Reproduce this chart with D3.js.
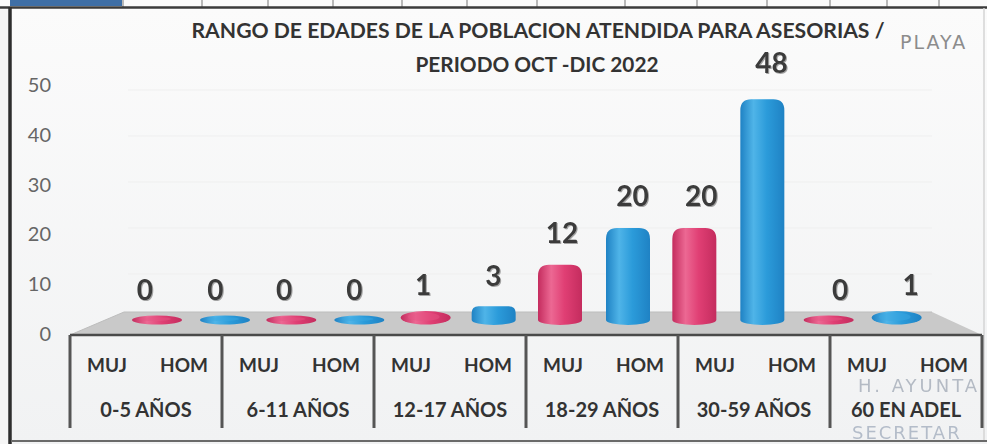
<!DOCTYPE html>
<html>
<head>
<meta charset="utf-8">
<script src="https://cdn.jsdelivr.net/npm/d3@7"></script>
<style>
  html, body { margin: 0; padding: 0; background: #f6f6f6; }
  svg { display: block; }
</style>
</head>
<body>
<svg id="chart" width="987" height="444"></svg>
<script>
// Age ranges and the two series shown for each range
const groups = ["0-5 AÑOS", "6-11 AÑOS", "12-17 AÑOS", "18-29 AÑOS", "30-59 AÑOS", "60 EN ADEL"];
const seriesNames = ["MUJ", "HOM"];
const mujeres = [0, 0, 1, 12, 20, 0];
const hombres = [0, 0, 3, 20, 48, 1];
const yTicks = [0, 10, 20, 30, 40, 50];
const titleLines = ["RANGO DE EDADES DE LA POBLACION ATENDIDA PARA ASESORIAS /", "PERIODO OCT -DIC 2022"];

const data = groups.map((g, i) => ({ group: g, values: [
  { series: "MUJ", value: mujeres[i] },
  { series: "HOM", value: hombres[i] }
]}));

const svg = d3.select("#chart");
const W = 987, H = 444;

const defs = svg.append("defs");
function cylGrad(id, dark, mid, light) {
  const g = defs.append("linearGradient").attr("id", id).attr("x1", 0).attr("x2", 1).attr("y1", 0).attr("y2", 0);
  g.append("stop").attr("offset", "0%").attr("stop-color", dark);
  g.append("stop").attr("offset", "30%").attr("stop-color", light);
  g.append("stop").attr("offset", "60%").attr("stop-color", mid);
  g.append("stop").attr("offset", "100%").attr("stop-color", dark);
}
cylGrad("gMUJ", "#c42c5e", "#e03f74", "#ec6893");
cylGrad("gHOM", "#1f82c4", "#2b9bda", "#4fb4e8");
const colors = { MUJ: "url(#gMUJ)", HOM: "url(#gHOM)" };
const topColors = { MUJ: "#e55384", HOM: "#3aa7e2" };

const bg = defs.append("linearGradient").attr("id", "bgGrad").attr("x1", 0).attr("x2", 0).attr("y1", 0).attr("y2", 1);
bg.append("stop").attr("offset", "0%").attr("stop-color", "#fbfbfb");
bg.append("stop").attr("offset", "100%").attr("stop-color", "#f1f2f3");

const shadow = defs.append("filter").attr("id", "lblShadow").attr("x", "-20%").attr("y", "-20%").attr("width", "140%").attr("height", "140%");
shadow.append("feDropShadow").attr("dx", 1).attr("dy", 1).attr("stdDeviation", 0.6).attr("flood-color", "#9a9a9a").attr("flood-opacity", 0.9);

// Chart area background
svg.append("rect").attr("x", 11).attr("y", 8).attr("width", W - 11).attr("height", H - 8).attr("fill", "url(#bgGrad)");

// Spreadsheet strip along the top edge
svg.append("rect").attr("x", 0).attr("y", 0).attr("width", W).attr("height", 7).attr("fill", "#fafafa");
svg.append("rect").attr("x", 10).attr("y", 0).attr("width", 112).attr("height", 6).attr("fill", "#3f6fa6");
const cellEdges = [123, 202, 268, 333, 402, 467, 537, 625, 697, 767, 830, 887, 939];
svg.selectAll("line.cell").data(cellEdges).join("line")
  .attr("x1", d => d).attr("x2", d => d).attr("y1", 0).attr("y2", 7)
  .attr("stroke", "#777").attr("stroke-width", 1);
svg.append("line").attr("x1", 0).attr("x2", W).attr("y1", 7.5).attr("y2", 7.5).attr("stroke", "#3a3a3a").attr("stroke-width", 2.5);

// Frame edges
svg.append("line").attr("x1", 10).attr("x2", 10).attr("y1", 7).attr("y2", H).attr("stroke", "#2e2e2e").attr("stroke-width", 3.5);
svg.append("line").attr("x1", 11).attr("x2", W).attr("y1", 441).attr("y2", 441).attr("stroke", "#6a6a6a").attr("stroke-width", 2);
svg.append("line").attr("x1", 984).attr("x2", 984).attr("y1", 8).attr("y2", 440).attr("stroke", "#d4d4d4").attr("stroke-width", 1.5);

// Scales
const yAxisScale = d3.scaleLinear().domain([0, 50]).range([334, 85]);
const yBar = d3.scaleLinear().domain([0, 50]).range([320, 90]);
const xBars = d3.scaleBand().domain(groups).range([124, 930]);
const xBarSub = d3.scalePoint().domain(seriesNames).range([33, 101]);
const xTable = d3.scaleBand().domain(groups).range([70, 982]);
const xTableSub = d3.scalePoint().domain(seriesNames).range([37, 114]);

// Very faint gridlines on the back wall
svg.append("g").selectAll("line").data(yTicks.slice(1)).join("line")
  .attr("x1", 128).attr("x2", 932)
  .attr("y1", d => yBar(d)).attr("y2", d => yBar(d))
  .attr("stroke", "#efefef").attr("stroke-width", 1);

// Floor of the 3D plot
const floorBack = yBar(0) - 8, floorFront = 335;
svg.append("path")
  .attr("d", `M70,${floorFront} L124,${floorBack} L932,${floorBack} L982,${floorFront} Z`)
  .attr("fill", "#c9c9c9");
svg.append("path")
  .attr("d", `M70,${floorFront} L124,${floorBack} L932,${floorBack}`)
  .attr("fill", "none").attr("stroke", "#bdbdbd").attr("stroke-width", 1);

// Y axis labels
const yAxis = d3.axisLeft(yAxisScale).tickValues(yTicks).tickSize(0).tickPadding(0);
const yG = svg.append("g").attr("transform", "translate(51,0)").call(yAxis);
yG.select(".domain").remove();
yG.selectAll("text")
  .attr("font-family", "Lato, 'Open Sans', sans-serif")
  .attr("font-size", 20).attr("fill", "#666");

// Cylinders
const rx = 22, ry = 5;
function cylinderPath(cx, top, base) {
  const h = base - top;
  const r = Math.min(11, h / 2);
  const x0 = cx - rx, x1 = cx + rx;
  return `M${x0},${base} L${x0},${top + r} Q${x0},${top} ${x0 + r},${top} ` +
         `L${x1 - r},${top} Q${x1},${top} ${x1},${top + r} L${x1},${base} ` +
         `A${rx},${ry} 0 0 1 ${x0},${base} Z`;
}

const barG = svg.append("g");
data.forEach(d => {
  const gx = xBars(d.group);
  d.values.forEach(v => {
    const cx = gx + xBarSub(v.series);
    const base = yBar(0);
    const top = yBar(v.value);
    const h = base - top;
    if (h < 12) {
      // very short cylinders read as a disc
      barG.append("ellipse")
        .attr("cx", cx).attr("cy", base - h / 2)
        .attr("rx", rx + 3).attr("ry", ry - 0.5 + h / 2)
        .attr("fill", colors[v.series]);
      barG.append("ellipse")
        .attr("cx", cx - 2).attr("cy", base - h / 2 - 1)
        .attr("rx", rx - 6).attr("ry", Math.max(2, (ry + h / 2) - 3))
        .attr("fill", topColors[v.series]).attr("opacity", 0.5);
    } else {
      barG.append("path")
        .attr("d", cylinderPath(cx, top, base))
        .attr("fill", colors[v.series]);
    }
    // value label
    barG.append("text")
      .attr("x", cx + (cx - 500) * 0.035)
      .attr("y", top - 20 - v.value * 0.12)
      .attr("text-anchor", "middle")
      .attr("font-family", "Lato, 'Open Sans', sans-serif")
      .attr("font-weight", 700).attr("font-size", 28)
      .attr("fill", "#3a3a3a")
      .attr("filter", "url(#lblShadow)")
      .text(v.value);
  });
});

// Category table below the floor
const tableTop = 335, tableBottom = 428;
svg.append("line").attr("x1", 70).attr("x2", 982).attr("y1", tableTop).attr("y2", tableTop)
  .attr("stroke", "#4a4a4a").attr("stroke-width", 2.5);
const edges = groups.map(g => xTable(g)).concat([xTable.range()[1]]);
svg.append("g").selectAll("line").data(edges).join("line")
  .attr("x1", d => d).attr("x2", d => d).attr("y1", tableTop).attr("y2", tableBottom)
  .attr("stroke", "#555").attr("stroke-width", 3);

const tbl = svg.append("g")
  .attr("font-family", "Lato, 'Open Sans', sans-serif")
  .attr("font-weight", 700).attr("fill", "#333").attr("text-anchor", "middle");
groups.forEach(g => {
  seriesNames.forEach(s => {
    tbl.append("text")
      .attr("x", xTable(g) + xTableSub(s)).attr("y", 372)
      .attr("font-size", 19).text(s);
  });
  tbl.append("text")
    .attr("x", xTable(g) + xTable.bandwidth() / 2).attr("y", 417)
    .attr("font-size", 20).text(g);
});

// Title
const titleG = svg.append("g")
  .attr("font-family", "Lato, 'Open Sans', sans-serif")
  .attr("font-weight", 700).attr("fill", "#333").attr("text-anchor", "middle");
titleG.append("text").attr("x", 538).attr("y", 38).attr("font-size", 20)
  .attr("textLength", 693).attr("lengthAdjust", "spacingAndGlyphs").text(titleLines[0]);
titleG.append("text").attr("x", 537).attr("y", 72).attr("font-size", 20)
  .attr("textLength", 243).attr("lengthAdjust", "spacingAndGlyphs").text(titleLines[1]);

// Stamp lettering over the page
const stamp = svg.append("g").attr("font-family", "'DejaVu Sans', sans-serif").attr("text-anchor", "start");
stamp.append("text").attr("x", 900).attr("y", 49).attr("font-size", 19)
  .attr("fill", "#8c8c8c").attr("letter-spacing", 2).text("PLAYA");
stamp.append("text").attr("x", 858).attr("y", 392).attr("font-size", 18)
  .attr("fill", "#9aa3b0").attr("opacity", 0.7).attr("letter-spacing", 3).text("H. AYUNTA");
stamp.append("text").attr("x", 852).attr("y", 439).attr("font-size", 18)
  .attr("fill", "#9aa6b8").attr("opacity", 0.7).attr("letter-spacing", 2).text("SECRETAR");
</script>
</body>
</html>
